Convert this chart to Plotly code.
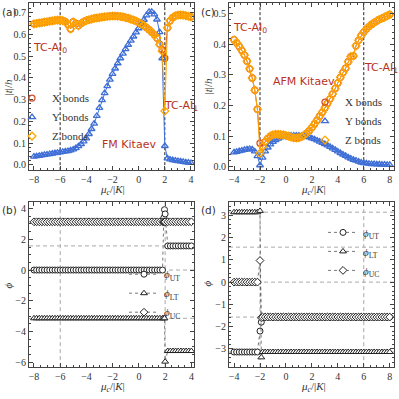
import plotly.graph_objects as go

# ---------------- panel (a): FM Kitaev ----------------
mu_a = [-8.0,-7.8,-7.6,-7.4,-7.2,-7.0,-6.8,-6.6,-6.4,-6.2,-6.0,-5.8,-5.6,-5.4,-5.2,-5.0,-4.8,-4.6,-4.4,-4.2,
        -4.0,-3.8,-3.6,-3.4,-3.2,-3.0,-2.8,-2.6,-2.4,-2.2,-2.0,-1.8,-1.6,-1.4,-1.2,-1.0,-0.8,-0.6,-0.4,-0.2,
        0.0,0.2,0.4,0.6,0.8,1.0,1.2,1.4,1.6,1.8,2.0,2.2,2.4,2.6,2.8,3.0,3.2,3.4,3.6,3.8,4.0]
x_bonds_a = [0.648,0.650,0.652,0.654,0.656,0.658,0.660,0.662,0.664,0.665,0.665,0.663,0.658,0.645,0.625,0.657,0.650,0.640,0.650,0.658,
             0.663,0.667,0.670,0.673,0.675,0.677,0.679,0.681,0.682,0.683,0.684,0.684,0.683,0.682,0.680,0.677,0.674,0.670,0.666,0.661,
             0.655,0.648,0.640,0.631,0.621,0.610,0.598,0.583,0.555,0.530,0.490,0.630,0.662,0.677,0.685,0.688,0.689,0.688,0.686,0.683,0.680]
y_bonds_a = [0.038,0.040,0.042,0.044,0.046,0.048,0.050,0.052,0.054,0.056,0.058,0.060,0.062,0.064,0.067,0.071,0.077,0.086,0.096,0.108,
             0.122,0.142,0.165,0.190,0.225,0.262,0.298,0.330,0.362,0.392,0.418,0.443,0.467,0.490,0.511,0.532,0.552,0.571,0.590,0.609,
             0.628,0.647,0.667,0.687,0.703,0.703,0.692,0.668,0.610,0.490,0.087,0.030,0.025,0.022,0.020,0.018,0.016,0.014,0.012,0.011,0.009]
z_bonds_a = [0.648,0.650,0.652,0.654,0.656,0.658,0.660,0.662,0.664,0.665,0.665,0.663,0.658,0.645,0.625,0.657,0.650,0.640,0.650,0.658,
             0.663,0.667,0.670,0.673,0.675,0.677,0.679,0.681,0.682,0.683,0.684,0.684,0.683,0.682,0.680,0.677,0.674,0.670,0.666,0.661,
             0.655,0.648,0.640,0.631,0.621,0.610,0.598,0.583,0.553,0.522,0.248,0.630,0.662,0.677,0.685,0.688,0.689,0.688,0.686,0.683,0.680]

# ---------------- panel (c): AFM Kitaev ----------------
mu_c = [-4.0,-3.8,-3.6,-3.4,-3.2,-3.0,-2.8,-2.6,-2.4,-2.2,-2.0,-1.8,-1.6,-1.4,-1.2,-1.0,-0.8,-0.6,-0.4,-0.2,
        0.0,0.2,0.4,0.6,0.8,1.0,1.2,1.4,1.6,1.8,2.0,2.2,2.4,2.6,2.8,3.0,3.2,3.4,3.6,3.8,
        4.0,4.2,4.4,4.6,4.8,5.0,5.2,5.4,5.6,5.8,6.0,6.2,6.4,6.6,6.8,7.0,7.2,7.4,7.6,7.8,8.0]
x_bonds_c = [0.415,0.405,0.393,0.380,0.365,0.345,0.320,0.290,0.250,0.188,0.077,0.066,0.082,0.093,0.100,0.104,0.106,0.106,0.105,0.104,
             0.102,0.100,0.097,0.095,0.094,0.095,0.098,0.103,0.110,0.118,0.128,0.140,0.152,0.165,0.178,0.192,0.207,0.222,0.238,0.256,
             0.274,0.292,0.308,0.322,0.343,0.360,0.362,0.395,0.413,0.428,0.440,0.450,0.458,0.465,0.471,0.476,0.481,0.485,0.489,0.493,0.497]
y_bonds_c = [0.047,0.049,0.051,0.053,0.055,0.057,0.058,0.057,0.050,0.035,0.005,0.030,0.050,0.063,0.073,0.081,0.087,0.092,0.096,0.099,
             0.100,0.101,0.102,0.102,0.102,0.102,0.101,0.100,0.098,0.096,0.093,0.090,0.086,0.082,0.078,0.074,0.070,0.065,0.060,0.055,
             0.050,0.045,0.040,0.036,0.031,0.027,0.023,0.020,0.017,0.014,0.012,0.011,0.010,0.009,0.009,0.008,0.008,0.007,0.007,0.006,0.006]
z_bonds_c = [0.415,0.405,0.393,0.380,0.365,0.345,0.320,0.290,0.250,0.188,0.044,0.066,0.082,0.093,0.100,0.104,0.106,0.106,0.105,0.104,
             0.102,0.100,0.097,0.095,0.094,0.095,0.098,0.103,0.110,0.118,0.128,0.140,0.152,0.165,0.178,0.192,0.207,0.222,0.238,0.256,
             0.274,0.292,0.308,0.322,0.343,0.360,0.362,0.395,0.413,0.428,0.440,0.450,0.458,0.465,0.471,0.476,0.481,0.485,0.489,0.493,0.497]

# ---------------- panel (b): phases, FM ----------------
mu_b = [-8.0,-7.8,-7.6,-7.4,-7.2,-7.0,-6.8,-6.6,-6.4,-6.2,-6.0,-5.8,-5.6,-5.4,-5.2,-5.0,-4.8,-4.6,-4.4,-4.2,
        -4.0,-3.8,-3.6,-3.4,-3.2,-3.0,-2.8,-2.6,-2.4,-2.2,-2.0,-1.8,-1.6,-1.4,-1.2,-1.0,-0.8,-0.6,-0.4,-0.2,
        0.0,0.2,0.4,0.6,0.8,1.0,1.2,1.4,1.6,1.8,1.9,1.95,2.0,2.2,2.4,2.6,2.8,3.0,3.2,3.4,3.6,3.8,4.0]
phi_ut_b = [0.0,0.0,0.0,0.0,0.0,0.0,0.0,0.0,0.0,0.0,0.0,0.0,0.0,0.0,0.0,0.0,0.0,0.0,0.0,0.0,
            0.0,0.0,0.0,0.0,0.0,0.0,0.0,0.0,0.0,0.0,0.0,0.0,0.0,0.0,0.0,0.0,0.0,0.0,0.0,0.0,
            0.0,0.0,0.0,0.0,0.0,0.0,0.0,0.0,0.0,0.0,3.4,3.93,3.65,1.57,1.57,1.57,1.57,1.57,1.57,1.57,1.57,1.57,1.57]
phi_lt_b = [-3.14,-3.14,-3.14,-3.14,-3.14,-3.14,-3.14,-3.14,-3.14,-3.14,-3.14,-3.14,-3.14,-3.14,-3.14,-3.14,-3.14,-3.14,-3.14,-3.14,
            -3.14,-3.14,-3.14,-3.14,-3.14,-3.14,-3.14,-3.14,-3.14,-3.14,-3.14,-3.14,-3.14,-3.14,-3.14,-3.14,-3.14,-3.14,-3.14,-3.14,
            -3.14,-3.14,-3.14,-3.14,-3.14,-3.14,-3.14,-3.14,-3.14,-3.14,-3.14,-3.14,-5.96,-5.27,-5.27,-5.27,-5.27,-5.27,-5.27,-5.27,-5.27,-5.27,-5.27]
phi_uc_b = [3.14,3.14,3.14,3.14,3.14,3.14,3.14,3.14,3.14,3.14,3.14,3.14,3.14,3.14,3.14,3.14,3.14,3.14,3.14,3.14,
            3.14,3.14,3.14,3.14,3.14,3.14,3.14,3.14,3.14,3.14,3.14,3.14,3.14,3.14,3.14,3.14,3.14,3.14,3.14,3.14,
            3.14,3.14,3.14,3.14,3.14,3.14,3.14,3.14,3.14,3.14,3.14,3.14,3.14,3.14,3.14,3.14,3.14,3.14,3.14,3.14,3.14,3.14,3.14]

# ---------------- panel (d): phases, AFM ----------------
mu_d = [-4.0,-3.8,-3.6,-3.4,-3.2,-3.0,-2.8,-2.6,-2.4,-2.2,-2.0,-1.9,-1.8,-1.6,-1.4,-1.2,-1.0,-0.8,-0.6,-0.4,-0.2,
        0.0,0.2,0.4,0.6,0.8,1.0,1.2,1.4,1.6,1.8,2.0,2.2,2.4,2.6,2.8,3.0,3.2,3.4,3.6,3.8,
        4.0,4.2,4.4,4.6,4.8,5.0,5.2,5.4,5.6,5.8,6.0,6.2,6.4,6.6,6.8,7.0,7.2,7.4,7.6,7.8,8.0]
phi_ut_d = [-3.14,-3.14,-3.14,-3.14,-3.14,-3.14,-3.14,-3.14,-3.14,-3.14,-2.2,-1.8,-1.6,-1.57,-1.57,-1.57,-1.57,-1.57,-1.57,-1.57,-1.57,
            -1.57,-1.57,-1.57,-1.57,-1.57,-1.57,-1.57,-1.57,-1.57,-1.57,-1.57,-1.57,-1.57,-1.57,-1.57,-1.57,-1.57,-1.57,-1.57,-1.57,
            -1.57,-1.57,-1.57,-1.57,-1.57,-1.57,-1.57,-1.57,-1.57,-1.57,-1.57,-1.57,-1.57,-1.57,-1.57,-1.57,-1.57,-1.57,-1.57,-1.57,-1.57]
phi_lt_d = [3.14,3.14,3.14,3.14,3.14,3.14,3.14,3.14,3.14,3.14,3.2,-3.38,-3.14,-3.14,-3.14,-3.14,-3.14,-3.14,-3.14,-3.14,-3.14,
            -3.14,-3.14,-3.14,-3.14,-3.14,-3.14,-3.14,-3.14,-3.14,-3.14,-3.14,-3.14,-3.14,-3.14,-3.14,-3.14,-3.14,-3.14,-3.14,-3.14,
            -3.14,-3.14,-3.14,-3.14,-3.14,-3.14,-3.14,-3.14,-3.14,-3.14,-3.14,-3.14,-3.14,-3.14,-3.14,-3.14,-3.14,-3.14,-3.14,-3.14,-3.14]
phi_uc_d = [0.0,0.0,0.0,0.0,0.0,0.0,0.0,0.0,0.0,0.0,0.97,-1.6,-1.57,-1.57,-1.57,-1.57,-1.57,-1.57,-1.57,-1.57,-1.57,
            -1.57,-1.57,-1.57,-1.57,-1.57,-1.57,-1.57,-1.57,-1.57,-1.57,-1.57,-1.57,-1.57,-1.57,-1.57,-1.57,-1.57,-1.57,-1.57,-1.57,
            -1.57,-1.57,-1.57,-1.57,-1.57,-1.57,-1.57,-1.57,-1.57,-1.57,-1.57,-1.57,-1.57,-1.57,-1.57,-1.57,-1.57,-1.57,-1.57,-1.57,-1.57]

# reference lines
phase_lines_a = [-6, 2]
phase_lines_c = [-2, 6]
grid_phi_b = [3.1416, 1.5708, 0.0, -3.1416]
grid_phi_d = [3.1416, 1.5708, 0.0, -1.5708, -3.1416]

RED = "#D4502A"
BLUE = "#3F6FD6"
ORANGE = "#FFA500"
DARKRED = "#B8321E"
SERIF = "Liberation Serif"
SANS = "DejaVu Sans"
W = 399.0

def px(v):
    return v / W

def py(v):
    return 1 - v / W

fig = go.Figure()

def bond_traces(mu, xb, yb, zb, xa, ya, leg):
    specs = [("X bonds", xb, RED, "circle-open"),
             ("Y bonds", yb, BLUE, "triangle-up-open"),
             ("Z bonds", zb, ORANGE, "diamond-open")]
    for name, vals, col, sym in specs:
        fig.add_trace(go.Scatter(
            x=mu, y=vals, mode="lines", showlegend=False, hoverinfo="skip",
            line=dict(color=col, width=1), xaxis=xa, yaxis=ya))
        fig.add_trace(go.Scatter(
            x=mu, y=vals, mode="markers", name=name,
            marker=dict(symbol=sym, size=6, color=col, line=dict(color=col, width=1.3)),
            xaxis=xa, yaxis=ya, legend=leg))

def phase_traces(mu, ut, lt, uc, xa, ya, leg):
    specs = [("<i>ϕ</i><sub>UT</sub>", ut, "circle"),
             ("<i>ϕ</i><sub>LT</sub>", lt, "triangle-up"),
             ("<i>ϕ</i><sub>UC</sub>", uc, "diamond")]
    for name, vals, sym in specs:
        fig.add_trace(go.Scatter(
            x=mu, y=vals, mode="lines+markers", name=name,
            line=dict(color="#555555", width=0.8, dash="dot"),
            marker=dict(symbol=sym, size=6, color="white", line=dict(color="#222222", width=1)),
            xaxis=xa, yaxis=ya, legend=leg))

bond_traces(mu_a, x_bonds_a, y_bonds_a, z_bonds_a, "x", "y", "legend")
bond_traces(mu_c, x_bonds_c, y_bonds_c, z_bonds_c, "x2", "y2", "legend2")
phase_traces(mu_b, phi_ut_b, phi_lt_b, phi_uc_b, "x3", "y3", "legend3")
phase_traces(mu_d, phi_ut_d, phi_lt_d, phi_uc_d, "x4", "y4", "legend4")

axis_common = dict(showline=True, mirror="ticks", linecolor="#444444", linewidth=1,
                   ticks="inside", ticklen=4, tickcolor="#444444", tickwidth=1,
                   showgrid=False, zeroline=False,
                   tickfont=dict(family=SERIF, size=10, color="#333333"),
                   minor=dict(ticks="inside", ticklen=2, tickcolor="#444444", nticks=5))

def xax(dom, rng, dtick, anchor):
    d = dict(axis_common)
    d.update(domain=dom, range=rng, dtick=dtick, tick0=0, anchor=anchor)
    return d

def yax(dom, rng, dtick, anchor, fmt=None):
    d = dict(axis_common)
    d.update(domain=dom, range=rng, dtick=dtick, tick0=0, anchor=anchor)
    if fmt:
        d["tickformat"] = fmt
    return d

dom_left = [px(29), px(194)]
dom_right = [px(229), px(394)]
dom_top = [py(171), py(3)]
dom_bot = [py(369), py(203)]

legend_common = dict(bgcolor="rgba(0,0,0,0)", borderwidth=0, itemwidth=30,
                     font=dict(family=SERIF, size=11, color="#333333"),
                     xanchor="left", yanchor="top", tracegroupgap=0)

fig.update_layout(
    width=399, height=399, margin=dict(l=0, r=0, t=0, b=0),
    paper_bgcolor="white", plot_bgcolor="white",
    xaxis=xax(dom_left, [-8.38, 4.23], 2, "y"),
    yaxis=yax(dom_top, [-0.024, 0.744], 0.1, "x", ".1f"),
    xaxis2=xax(dom_right, [-4.39, 8.33], 2, "y2"),
    yaxis2=yax(dom_top, [-0.011, 0.535], 0.1, "x2", ".1f"),
    xaxis3=xax(dom_left, [-8.38, 4.2], 2, "y3"),
    yaxis3=yax(dom_bot, [-6.32, 4.43], 2, "x3"),
    xaxis4=xax(dom_right, [-4.39, 8.33], 2, "y4"),
    yaxis4=yax(dom_bot, [-3.82, 3.6], 1, "x4"),
    legend=dict(legend_common, x=px(12), y=py(84)),
    legend2=dict(legend_common, x=px(305), y=py(88)),
    legend3=dict(legend_common, x=px(124), y=py(261)),
    legend4=dict(legend_common, x=px(323), y=py(219)),
    showlegend=True,
)

shapes = []
for v in phase_lines_a:
    shapes.append(dict(type="line", xref="x", yref="y domain", x0=v, x1=v, y0=0, y1=1,
                       line=dict(color="#222222", width=1, dash="3px,2px"), layer="below"))
for v in phase_lines_c:
    shapes.append(dict(type="line", xref="x2", yref="y2 domain", x0=v, x1=v, y0=0, y1=1,
                       line=dict(color="#222222", width=1, dash="3px,2px"), layer="below"))
for v in phase_lines_a:
    shapes.append(dict(type="line", xref="x3", yref="y3 domain", x0=v, x1=v, y0=0, y1=1,
                       line=dict(color="#aaaaaa", width=1, dash="4px,3px"), layer="below"))
for v in grid_phi_b:
    shapes.append(dict(type="line", xref="x3 domain", yref="y3", x0=0, x1=1, y0=v, y1=v,
                       line=dict(color="#aaaaaa", width=1, dash="4px,3px"), layer="below"))
for v in phase_lines_c:
    shapes.append(dict(type="line", xref="x4", yref="y4 domain", x0=v, x1=v, y0=0, y1=1,
                       line=dict(color="#aaaaaa", width=1, dash="4px,3px"), layer="below"))
for v in grid_phi_d:
    shapes.append(dict(type="line", xref="x4 domain", yref="y4", x0=0, x1=1, y0=v, y1=v,
                       line=dict(color="#aaaaaa", width=1, dash="4px,3px"), layer="below"))
fig.update_layout(shapes=shapes)

ann = []
def add_text(text, x, y, size, color, family, xanchor="left", angle=0):
    ann.append(dict(text=text, x=px(x), y=py(y), xref="paper", yref="paper",
                    xanchor=xanchor, yanchor="middle", showarrow=False, textangle=angle,
                    font=dict(size=size, color=color, family=family)))

for lab, x, y in [("(a)", 0, 12), ("(c)", 199, 12), ("(b)", 0, 211), ("(d)", 199, 211)]:
    add_text(lab, x, y, 10.5, "#333333", SANS)

add_text("TC-AI<sub>0</sub>", 31, 48, 11, DARKRED, SANS)
add_text("TC-AI<sub>1</sub>", 162, 107, 11, DARKRED, SANS)
add_text("FM Kitaev", 100, 145, 11, DARKRED, SANS)
add_text("TC-AI<sub>0</sub>", 231, 28, 11, DARKRED, SANS)
add_text("AFM Kitaev", 271, 82, 11, DARKRED, SANS)
add_text("TC-AI<sub>1</sub>", 362, 68, 11, DARKRED, SANS)

xt = "<i>μ</i><sub><i>c</i></sub>/|<i>K</i>|"
add_text(xt, 112, 191, 11, "#333333", SERIF, "center")
add_text(xt, 313, 191, 11, "#333333", SERIF, "center")
add_text(xt, 112, 389, 11, "#333333", SERIF, "center")
add_text(xt, 313, 389, 11, "#333333", SERIF, "center")
add_text("|<i>t</i>|/<i>h</i>", 8, 88, 11, "#333333", SERIF, "center", -90)
add_text("|<i>t</i>|/<i>h</i>", 208, 87, 11, "#333333", SERIF, "center", -90)
add_text("<i>ϕ</i>", 8, 287, 11, "#333333", SERIF, "center", -90)
add_text("<i>ϕ</i>", 207, 285, 11, "#333333", SERIF, "center", -90)
fig.update_layout(annotations=ann)

fig.write_html("out.html", config={"displayModeBar": False},
               post_script="document.body.style.margin='0';document.body.style.padding='0';")
